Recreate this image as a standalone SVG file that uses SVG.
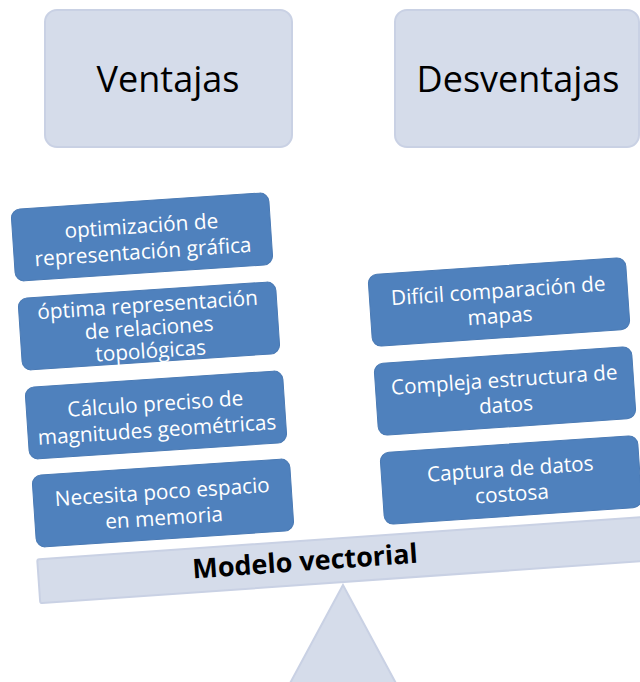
<svg xmlns="http://www.w3.org/2000/svg" width="640" height="682" viewBox="0 0 640 682">
<style>
.hdr{fill:#d5dcea;stroke:#c9d1e4;stroke-width:2}
.hdrt{font-family:"Open Sans","Liberation Sans",sans-serif;font-size:36px;fill:#000;text-anchor:middle}
.box{fill:#4f81bd;stroke:#4a7ab4;stroke-width:1}
.bt{font-family:"Open Sans","Liberation Sans",sans-serif;font-size:20.8px;fill:#fff;text-anchor:middle}
.beam{fill:#d5dcea;stroke:#c9d1e4;stroke-width:2}
.bmt{font-family:"Open Sans","Liberation Sans",sans-serif;font-size:27px;font-weight:bold;fill:#000;text-anchor:middle}
</style>
<rect width="640" height="682" fill="#fff"/>
<g id="ventajas">
<rect class="hdr" x="45" y="10" width="247" height="137" rx="12"/>
<text class="hdrt" x="168" y="92">Ventajas</text>
</g>
<g id="desventajas">
<rect class="hdr" x="395" y="10" width="244" height="137" rx="12"/>
<text class="hdrt" x="518" y="92">Desventajas</text>
</g>
<g id="fulcrum">
<polygon class="beam" points="343,585 281,700 405,700"/>
</g>
<g id="beam" transform="rotate(-4 343 560)">
<rect class="beam" x="38" y="538" width="610" height="44" rx="2"/>
<text class="bmt" x="305" y="568">Modelo vectorial</text>
</g>
<g id="v1" transform="rotate(-3.8 142 237)">
<rect class="box" x="13" y="201" width="258" height="72" rx="9"/>
<text class="bt" x="142" y="233">optimización de</text>
<text class="bt" x="142" y="259">representación gráfica</text>
</g>
<g id="v2" transform="rotate(-3.8 149 326)">
<rect class="box" x="20" y="290" width="258" height="72" rx="9"/>
<text class="bt" x="149" y="312">óptima representación</text>
<text class="bt" x="149" y="335">de relaciones</text>
<text class="bt" x="149" y="358">topológicas</text>
</g>
<g id="v3" transform="rotate(-3.8 156 415)">
<rect class="box" x="27" y="379" width="258" height="72" rx="9"/>
<text class="bt" x="156" y="411">Cálculo preciso de</text>
<text class="bt" x="156" y="437">magnitudes geométricas</text>
</g>
<g id="v4" transform="rotate(-3.8 163 503)">
<rect class="box" x="34" y="467" width="258" height="72" rx="9"/>
<text class="bt" x="163" y="499">Necesita poco espacio</text>
<text class="bt" x="163" y="525">en memoria</text>
</g>
<g id="d1" transform="rotate(-3.9 499 302)">
<rect class="box" x="370" y="266" width="258" height="72" rx="9"/>
<text class="bt" x="499" y="298">Difícil comparación de</text>
<text class="bt" x="499" y="323">mapas</text>
</g>
<g id="d2" transform="rotate(-3.9 505 391)">
<rect class="box" x="376" y="355" width="258" height="72" rx="9"/>
<text class="bt" x="505" y="387">Compleja estructura de</text>
<text class="bt" x="505" y="412">datos</text>
</g>
<g id="d3" transform="rotate(-3.9 511 480)">
<rect class="box" x="382" y="444" width="258" height="72" rx="9"/>
<text class="bt" x="511" y="476">Captura de datos</text>
<text class="bt" x="511" y="501">costosa</text>
</g>
<g id="connectors"></g>
</svg>
